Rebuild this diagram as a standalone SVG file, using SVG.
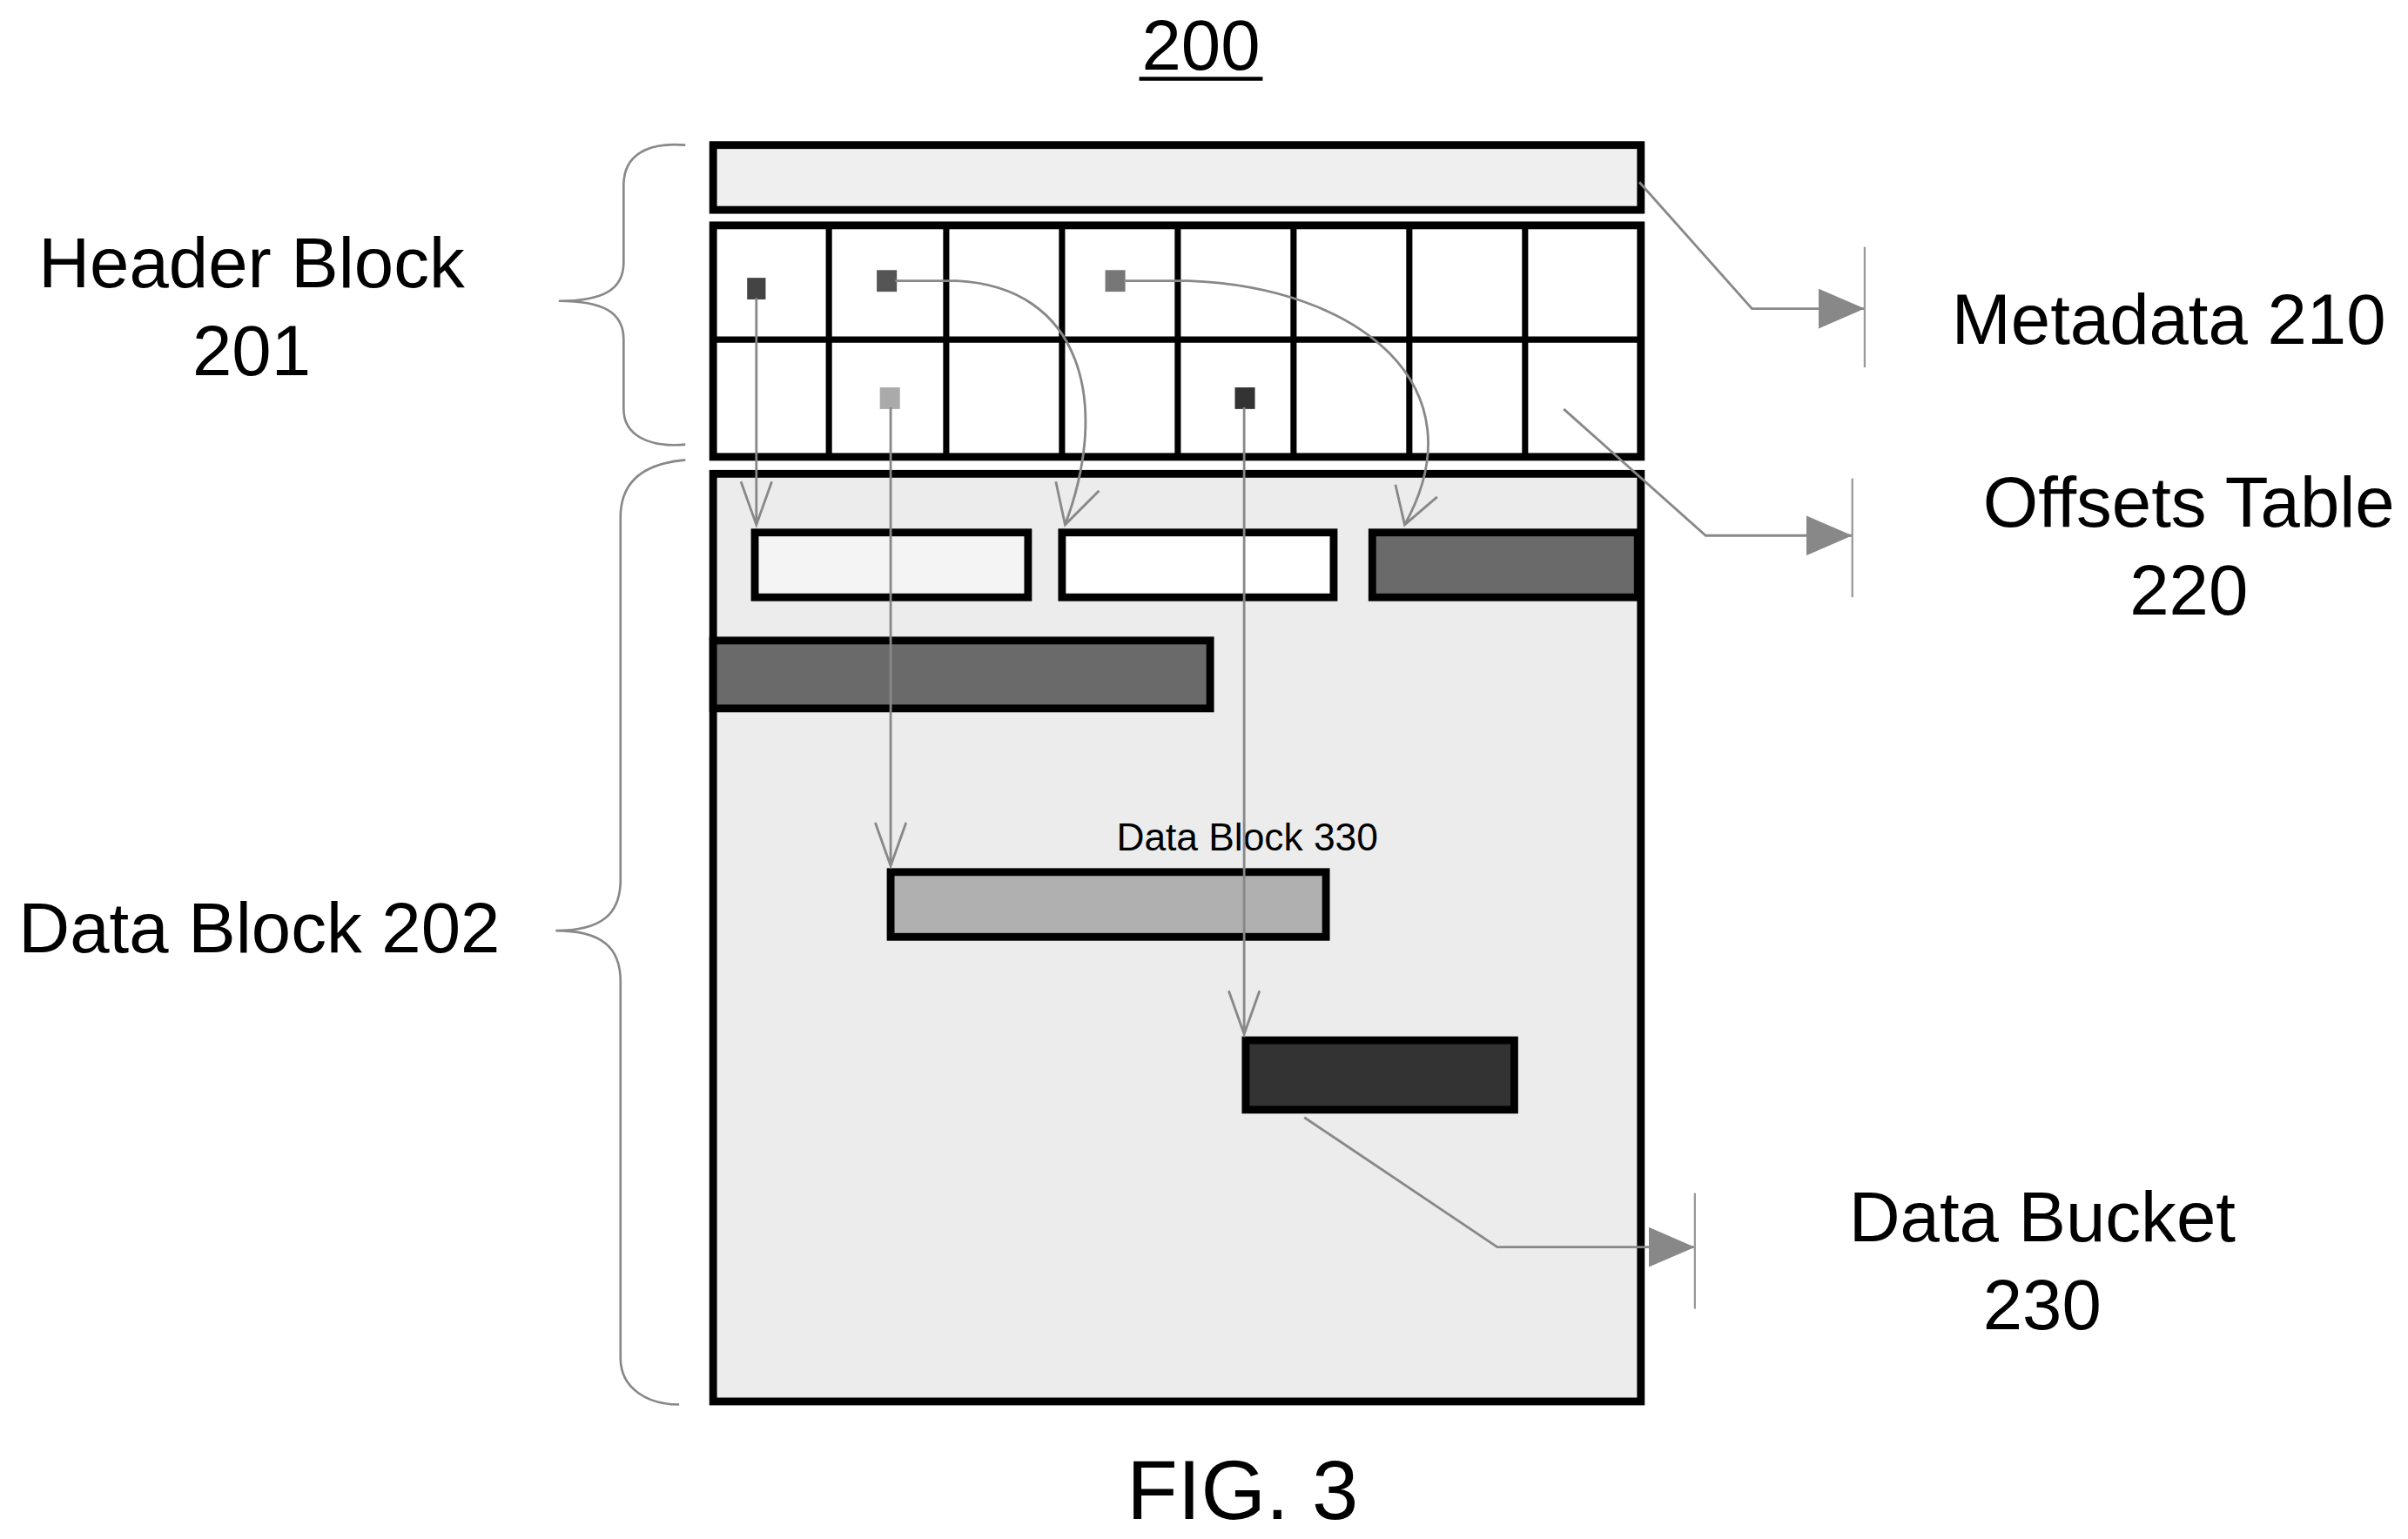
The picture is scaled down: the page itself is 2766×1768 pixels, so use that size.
<svg xmlns="http://www.w3.org/2000/svg" width="2766" height="1768" viewBox="0 0 2766 1768">
<defs>
<style>
text{font-family:"Liberation Sans",Arial,sans-serif;fill:#000}
.big{font-size:46px;text-anchor:middle}
.box{stroke:#000;stroke-width:5}
.con{fill:none;stroke:#888;stroke-width:1.6}
.tick{stroke:#999;stroke-width:1.3}
.brace{fill:none;stroke:#888;stroke-width:1.5}
</style>
<marker id="tri" viewBox="0 0 30 26" refX="30" refY="13" markerWidth="30" markerHeight="26" markerUnits="userSpaceOnUse" orient="auto">
<path d="M0,0 L30,13 L0,26 Z" fill="#888"/>
</marker>
</defs>
<rect width="2766" height="1768" fill="#fff"/>
<g transform="scale(1.7731)">
<g id="title"><text class="big" x="778" y="45">200</text><line x1="738" y1="51" x2="818" y2="51" stroke="#000" stroke-width="2.5"/></g>
<g id="metadata-box"><rect class="box" x="462" y="94" width="601" height="42" fill="#efefef"/></g>
<g id="offsets-table">
<rect class="box" x="462" y="146" width="601" height="150" fill="#fff"/>
<path d="M462,220H1063M537,146V296M613,146V296M688,146V296M763,146V296M838,146V296M913,146V296M988,146V296" stroke="#000" stroke-width="4"/>
<rect x="484" y="180" width="12" height="14" fill="#444"/>
<rect x="568" y="175" width="13" height="14" fill="#555"/>
<rect x="716" y="175" width="13" height="14" fill="#777"/>
<rect x="570" y="251" width="13" height="14" fill="#aaa"/>
<rect x="800" y="251" width="13" height="14" fill="#333"/>
</g>
<g id="data-block"><rect class="box" x="462" y="307" width="601" height="601" fill="#ececec"/></g>
<g id="slot1"><rect class="box" x="489" y="345" width="177" height="42" fill="#f4f4f4"/></g>
<g id="slot2"><rect class="box" x="688" y="345" width="176" height="42" fill="#fff"/></g>
<g id="slot3"><rect class="box" x="889" y="345" width="172" height="42" fill="#6a6a6a"/></g>
<g id="bar1"><rect class="box" x="462" y="415" width="322" height="44" fill="#6a6a6a"/></g>
<g id="data-block-330"><rect class="box" x="577" y="565" width="282" height="42" fill="#b0b0b0"/><text x="808" y="551" font-size="25" text-anchor="middle">Data Block 330</text></g>
<g id="bucket-block"><rect class="box" x="807" y="674" width="174" height="45" fill="#333"/></g>
<g id="connectors">
<path class="con" d="M490,193V340M480,312L490,340L500,312"/>
<path class="con" d="M580,182H620C700,186 720,260 690,340M684,312L690,340L712,318"/>
<path class="con" d="M728,182H770C880,186 960,250 910,340M904,314L910,340L931,322"/>
<path class="con" d="M577,264V561M567,533L577,561L587,533" stroke="#aaa"/>
<path class="con" d="M806,264V670M796,642L806,670L816,642"/>
<path class="con" d="M1062,118L1135,200H1208" marker-end="url(#tri)"/>
<line class="tick" x1="1208" y1="160" x2="1208" y2="238"/>
<path class="con" d="M1013,265L1105,347H1200" marker-end="url(#tri)"/>
<line class="tick" x1="1200" y1="310" x2="1200" y2="387"/>
<path class="con" d="M845,724L970,808H1098" marker-end="url(#tri)"/>
<line class="tick" x1="1098" y1="773" x2="1098" y2="848"/>
</g>
<g id="header-brace"><path class="brace" d="M444,94C420,92 404,100 404,120V170C404,188 390,195 362,195C390,195 404,202 404,220V265C404,282 420,290 444,288"/></g>
<g id="data-brace"><path class="brace" d="M444,298C420,300 402,310 402,335V570C402,592 390,603 360,603C390,603 402,614 402,636V880C402,900 420,910 440,910"/></g>
<g id="labels">
<text class="big" x="163" y="186">Header Block</text>
<text class="big" x="163" y="243">201</text>
<text class="big" x="1405" y="223">Metadata 210</text>
<text class="big" x="1418" y="341">Offsets Table</text>
<text class="big" x="1418" y="398">220</text>
<text class="big" x="168" y="617">Data Block 202</text>
<text class="big" x="1323" y="804">Data Bucket</text>
<text class="big" x="1323" y="861">230</text>
<text x="805" y="984" font-size="54" text-anchor="middle">FIG. 3</text>
</g>
</g>
</svg>
